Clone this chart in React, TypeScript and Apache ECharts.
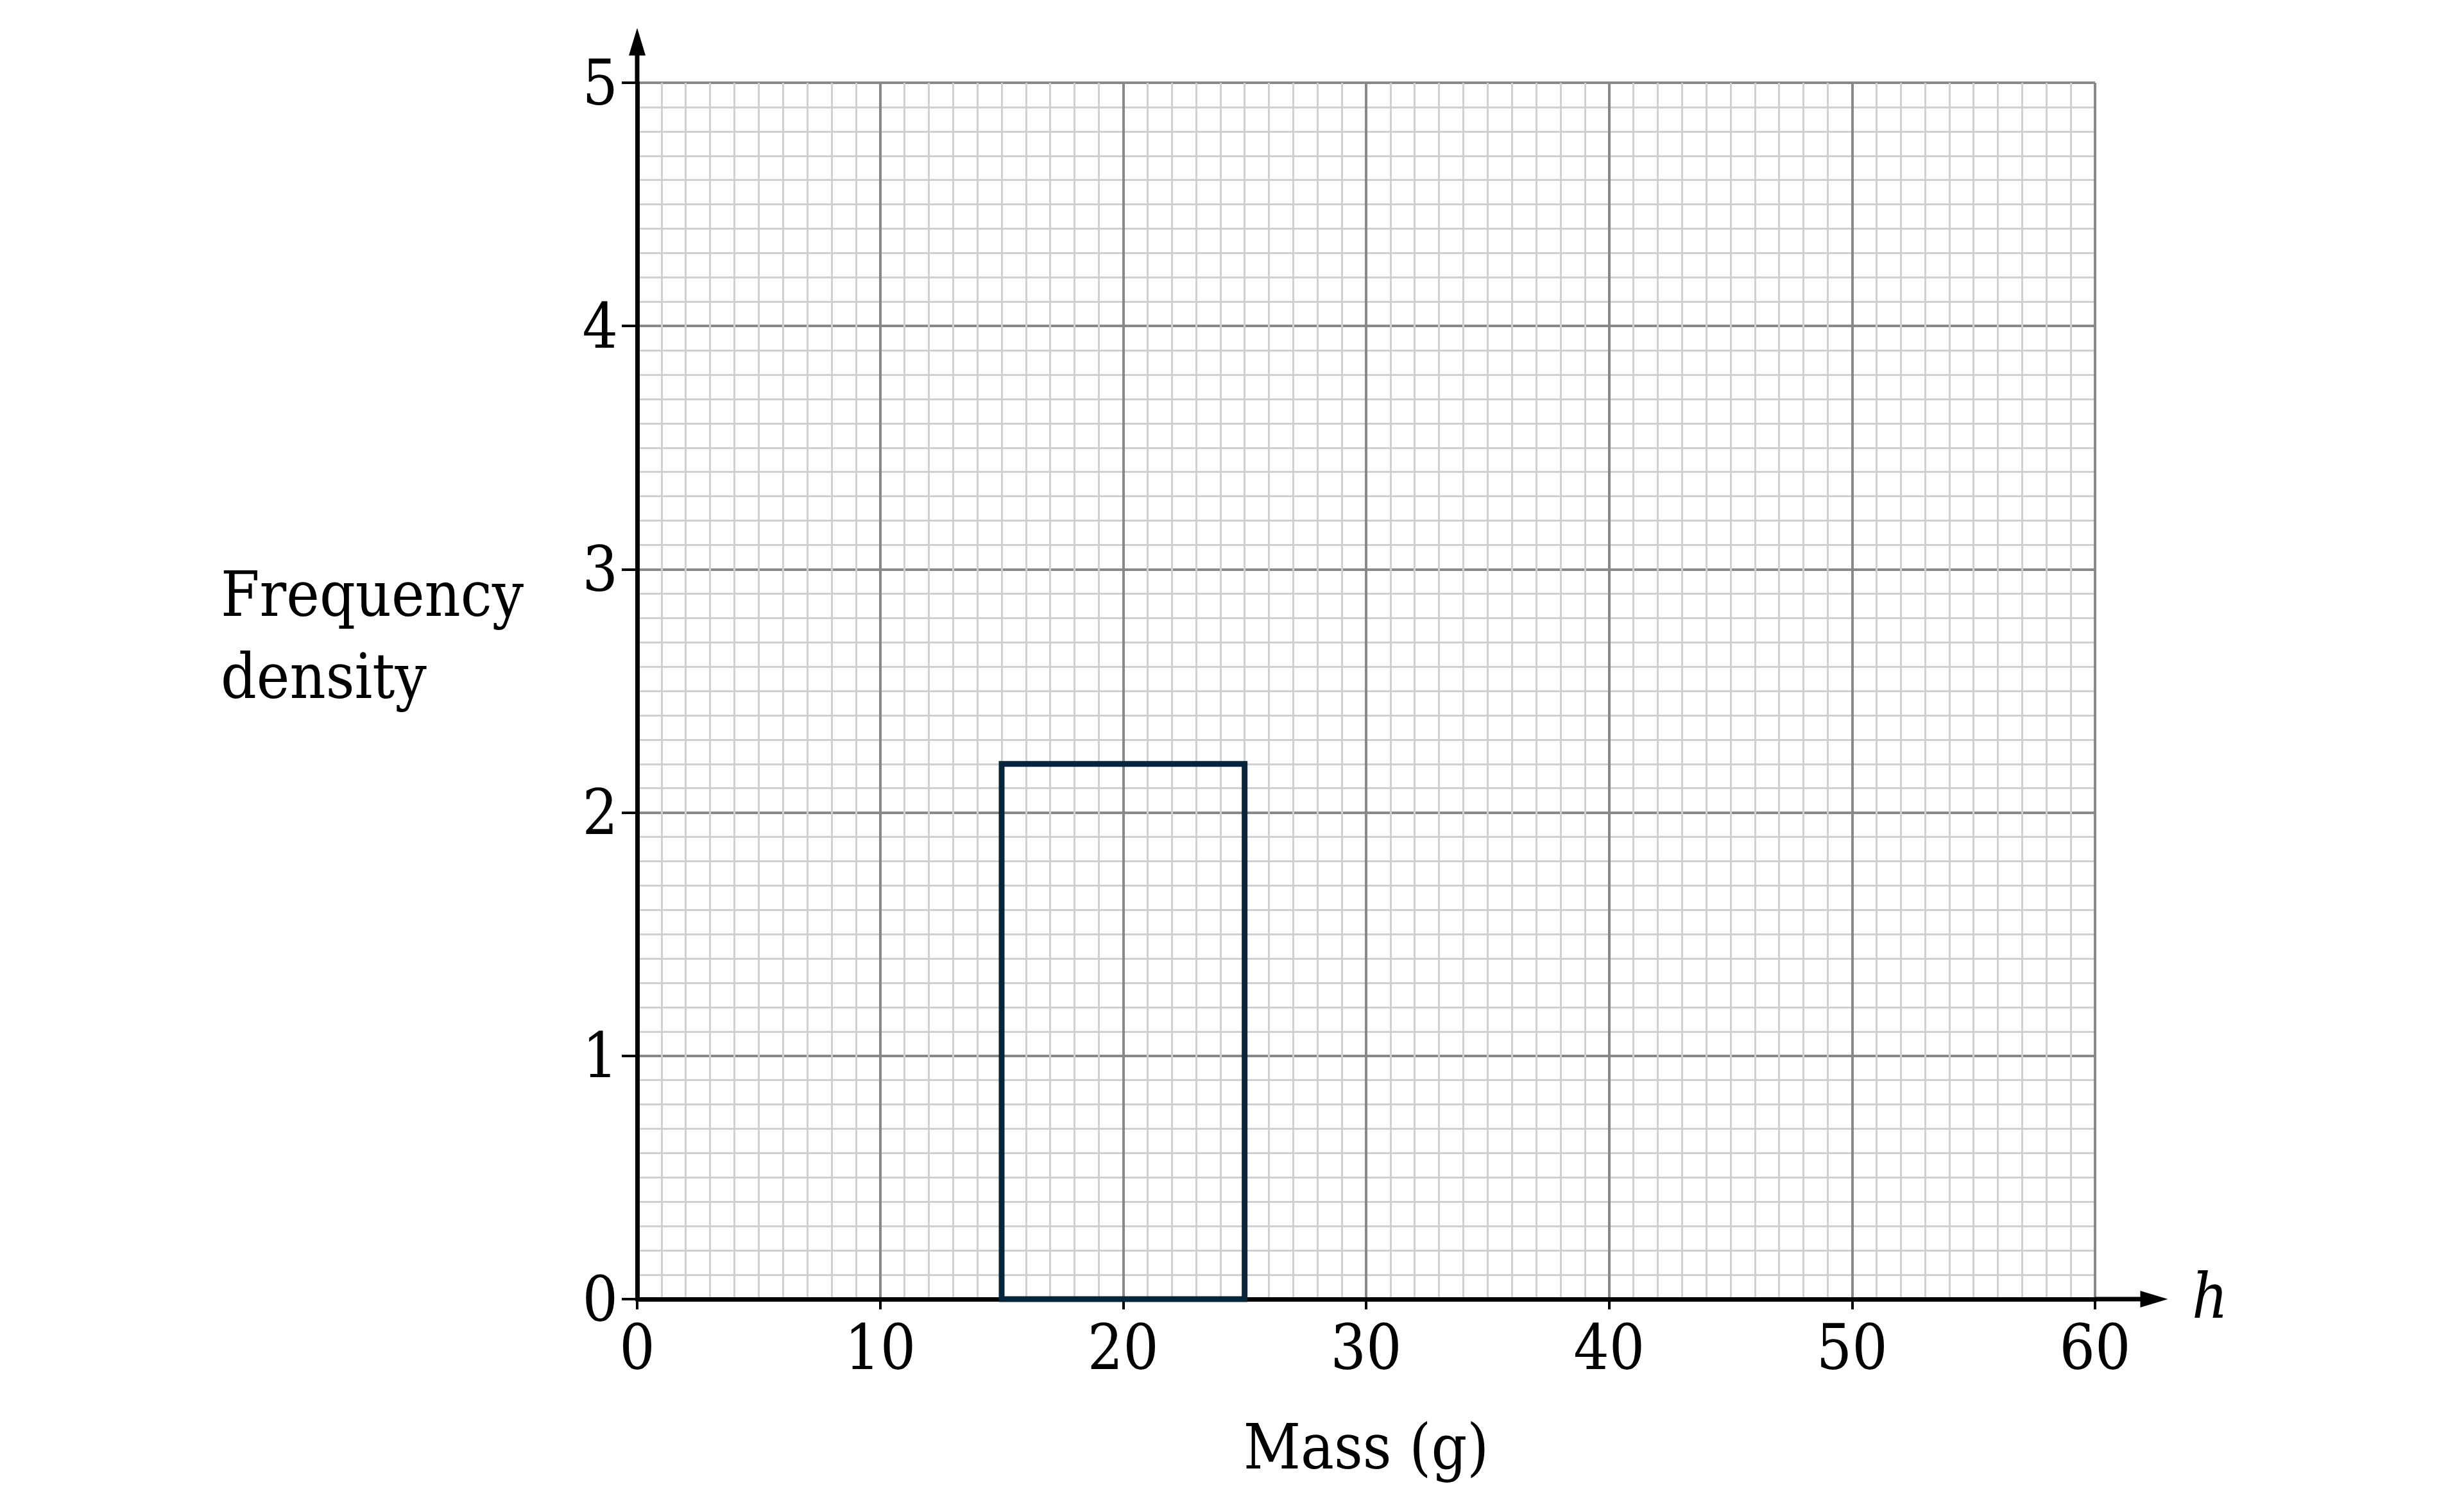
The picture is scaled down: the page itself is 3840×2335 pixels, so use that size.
import { useRef, useEffect } from 'react'
import * as echarts from 'echarts'

// histogram classes (mass in g) and their frequency densities
const classStart = [15]
const classEnd = [25]
const frequencyDensity = [2.2]

const massRange = [0, 60]
const densityRange = [0, 5]

const serif = '"DejaVu Serif Condensed", "DejaVu Serif", "Liberation Serif", serif'

function App() {
  const chartRef = useRef<HTMLDivElement>(null)

  useEffect(() => {
    if (!chartRef.current) return
    const myChart = echarts.init(chartRef.current, null, { renderer: 'svg' })

    const textStyle = { fontFamily: serif, fontSize: 97, color: '#000' }

    const option = {
      animation: false,
      grid: { left: 993, right: 575, top: 129, bottom: 310 },
      xAxis: {
        type: 'value',
        min: massRange[0],
        max: massRange[1],
        interval: 10,
        name: 'Mass (g)',
        nameLocation: 'middle',
        nameGap: 230,
        nameTextStyle: { ...textStyle, verticalAlign: 'middle' },
        axisLine: {
          show: true,
          onZero: false,
          symbol: ['none', 'triangle'],
          symbolSize: [26, 43],
          symbolOffset: [0, 92],
          lineStyle: { color: '#000', width: 7 },
        },
        axisTick: { show: true, length: 16, lineStyle: { color: '#000', width: 4 } },
        axisLabel: { ...textStyle, margin: 27 },
        splitLine: { show: true, lineStyle: { color: '#888', width: 4 } },
        minorTick: { show: false, splitNumber: 10 },
        minorSplitLine: { show: true, lineStyle: { color: '#d0d0d0', width: 3 } },
      },
      yAxis: {
        type: 'value',
        min: densityRange[0],
        max: densityRange[1],
        interval: 1,
        axisLine: {
          show: true,
          onZero: false,
          symbol: ['none', 'triangle'],
          symbolSize: [26, 43],
          symbolOffset: [0, 64],
          lineStyle: { color: '#000', width: 7 },
        },
        axisTick: { show: true, length: 24, lineStyle: { color: '#000', width: 4 } },
        axisLabel: { ...textStyle, margin: 30 },
        splitLine: { show: true, lineStyle: { color: '#888', width: 4 } },
        minorTick: { show: false, splitNumber: 10 },
        minorSplitLine: { show: true, lineStyle: { color: '#d0d0d0', width: 3 } },
      },
      series: [
        {
          type: 'custom',
          data: classStart.map((s, i) => [s, classEnd[i], frequencyDensity[i]]),
          encode: { x: [0, 1], y: 2 },
          clip: false,
          z: 5,
          renderItem: (_params: any, api: any) => {
            const topLeft = api.coord([api.value(0), api.value(2)])
            const bottomRight = api.coord([api.value(1), 0])
            return {
              type: 'rect',
              shape: {
                x: topLeft[0],
                y: topLeft[1],
                width: bottomRight[0] - topLeft[0],
                height: bottomRight[1] - topLeft[1],
              },
              style: { fill: 'none', stroke: '#05263a', lineWidth: 9 },
            }
          },
        },
      ],
    }
    myChart.setOption(option)

    // extend axis lines out to the arrow heads, plus the free-standing labels
    const [ox, oy] = myChart.convertToPixel({ gridIndex: 0 }, [massRange[0], densityRange[0]])
    const [ex, ey] = myChart.convertToPixel({ gridIndex: 0 }, [massRange[1], densityRange[1]])
    myChart.setOption({
      graphic: [
        {
          type: 'line',
          shape: { x1: ex, y1: oy, x2: ex + 80, y2: oy },
          style: { stroke: '#000', lineWidth: 7 },
        },
        {
          type: 'line',
          shape: { x1: ox, y1: ey, x2: ox, y2: ey - 50 },
          style: { stroke: '#000', lineWidth: 7 },
        },
        {
          type: 'text',
          x: ex + 151,
          y: oy - 5,
          style: {
            text: 'h',
            fontFamily: serif,
            fontStyle: 'italic',
            fontSize: 97,
            fill: '#000',
            align: 'left',
            verticalAlign: 'middle',
          },
        },
        {
          type: 'text',
          x: 344,
          y: 862,
          style: {
            text: 'Frequency\ndensity',
            fontFamily: serif,
            fontSize: 97,
            lineHeight: 128,
            fill: '#000',
            align: 'left',
            verticalAlign: 'top',
          },
        },
      ],
    })

    const handleResize = () => {
      myChart.resize()
    }
    window.addEventListener('resize', handleResize)

    return () => {
      window.removeEventListener('resize', handleResize)
      myChart.dispose()
    }
  }, [])

  return (
    <div
      ref={chartRef}
      style={{ position: 'absolute', left: 0, top: 0, width: '3840px', height: '2335px' }}
    ></div>
  )
}

export default App
